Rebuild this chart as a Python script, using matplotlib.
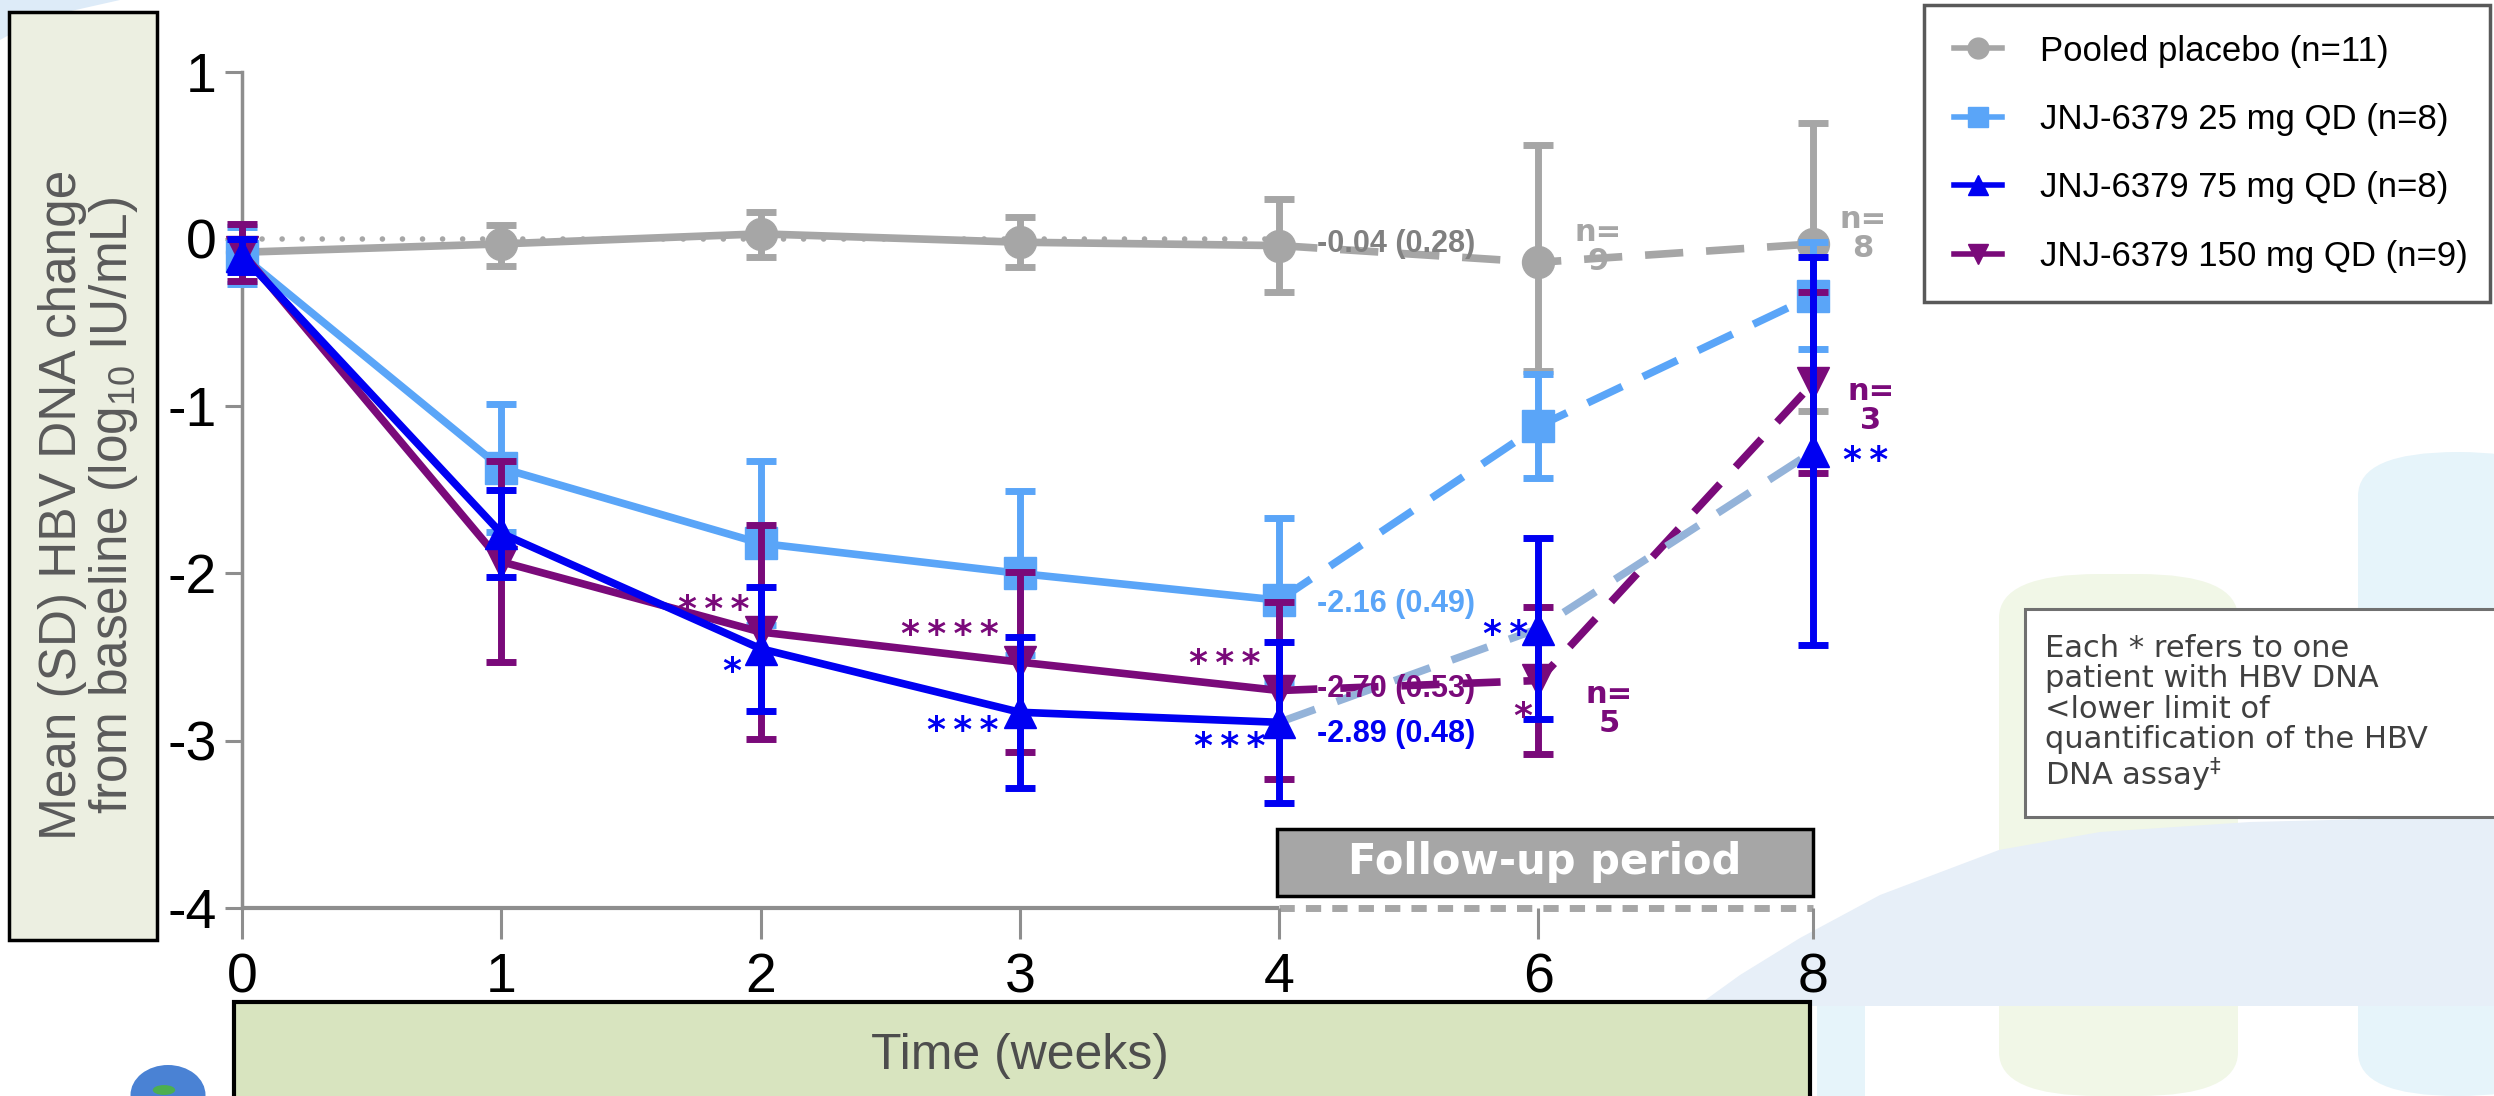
import matplotlib
matplotlib.use('Agg')
import matplotlib.pyplot as plt
from matplotlib.patches import Rectangle, Polygon, Ellipse, Circle, FancyBboxPatch
from matplotlib.lines import Line2D

# ---------------- data ----------------
weeks = [0, 1, 2, 3, 4, 6, 8]
week_labels = ['0', '1', '2', '3', '4', '6', '8']

placebo_mean = [-0.08, -0.03, 0.03, -0.02, -0.04, -0.14, -0.03]
placebo_err_lo = [0.08, 0.13, 0.14, 0.15, 0.28, 0.65, 1.00]
placebo_err_hi = [0.08, 0.11, 0.13, 0.15, 0.28, 0.70, 0.72]

mg25_mean = [-0.10, -1.37, -1.82, -2.00, -2.16, -1.12, -0.34]
mg25_sd = [0.17, 0.38, 0.49, 0.49, 0.49, 0.31, 0.32]

mg75_mean = [-0.10, -1.76, -2.45, -2.83, -2.89, -2.33, -1.27]
mg75_sd = [0.10, 0.26, 0.37, 0.45, 0.48, 0.54, 1.16]

mg150_mean = [-0.08, -1.93, -2.35, -2.53, -2.70, -2.64, -0.86]
mg150_sd = [0.17, 0.60, 0.64, 0.54, 0.53, 0.44, 0.54]

series_names = ['Pooled placebo (n=11)', 'JNJ-6379 25 mg QD (n=8)',
                'JNJ-6379 75 mg QD (n=8)', 'JNJ-6379 150 mg QD (n=9)']
week4_labels = ['-0.04 (0.28)', '-2.16 (0.49)', '-2.89 (0.48)', '-2.70 (0.53)']
y_ticks = [1, 0, -1, -2, -3, -4]
y_tick_labels = ['1', '0', '-1', '-2', '-3', '-4']

# ---------------- style ----------------
W, H, DPI = 2494, 1096, 100
GRAY = '#A6A6A6'
GRAYTXT = '#808080'
LBLUE = '#5AA5F8'
BLUE = '#0000F2'
PURPLE = '#7A0A7A'
STEEL = '#94B3D9'
AXGRAY = '#8E8E8E'
COND = ['Liberation Sans Narrow', 'Liberation Sans', 'DejaVu Sans']
ARIAL = ['Liberation Sans', 'DejaVu Sans']
VERD = ['DejaVu Sans']

# categorical-like x positions on the drawn axis
xpos_map = {0: 0, 1: 1, 2: 2, 3: 3, 4: 4, 6: 5, 8: 6.06}
xs = [xpos_map[w] for w in weeks]


def fx(X):
    return X / W


def fy(Y):
    return 1 - Y / H


fig = plt.figure(figsize=(W / DPI, H / DPI), dpi=DPI)
fig.patch.set_facecolor('white')

# ---------------- background decorations ----------------
def P(pts, **kw):
    return Polygon([(fx(a), fy(b)) for a, b in pts], closed=True, ec='none', **kw)


deco = [
    P([(0, 0), (120, 0), (40, 18), (0, 40)], fc='#DDEBF8'),
    FancyBboxPatch((fx(2358), fy(1096)), fx(200), (1096 - 452) / H,
                   boxstyle='round,pad=0,rounding_size=0.04', fc='#E6F4FA', ec='none'),
    FancyBboxPatch((fx(1999), fy(1096)), fx(239), (1096 - 574) / H,
                   boxstyle='round,pad=0,rounding_size=0.04', fc='#F1F7E7', ec='none'),
    P([(1697, 1006), (1740, 975), (1800, 938), (1880, 895), (1999, 850), (2100, 832),
       (2250, 822), (2494, 816), (2494, 1006)], fc='#E7EFF8'),
    Rectangle((fx(1817), fy(1096)), fx(48), (1096 - 1006) / H, fc='#E6F4FA', ec='none'),
    Ellipse((fx(168), fy(1095)), fx(75), 60 / H, fc='#4A82D4', ec='none'),
    Circle((fx(164), fy(1090)), 0.0045, fc='#4CAF50', ec='none'),
]
for p in deco:
    p.set_transform(fig.transFigure)
    p.set_zorder(-2)
    fig.patches.append(p)

# ---------------- boxes around axis titles ----------------
ybox = Rectangle((fx(9), fy(940)), fx(157 - 9), (940 - 12) / H, fc='#ECEFE1',
                 ec='black', lw=2.5, transform=fig.transFigure, zorder=-1)
tbox = Rectangle((fx(234), fy(1115)), fx(1810 - 234), (1115 - 1002) / H, fc='#D8E4BF',
                 ec='black', lw=3, transform=fig.transFigure, zorder=-1)
fig.patches.extend([ybox, tbox])
fig.text(fx(89), fy(505), 'Mean (SD) HBV DNA change\nfrom baseline (log$_{\\mathregular{10}}$ IU/mL)',
         rotation=90, ha='center', va='center', ma='center', fontsize=37,
         family=COND, color='#5A5A5A', linespacing=1.0, zorder=2)
fig.text(fx(1020), fy(1056), 'Time (weeks)', ha='center', va='center', fontsize=36,
         family=COND, color='#4D4D4D', zorder=2)

# ---------------- axes ----------------
ax = fig.add_axes([fx(242), fy(908), 6.3 * 259.3 / W, (908 - 71.6) / H])
ax.set_zorder(1)
ax.set_facecolor('none')
ax.set_xlim(0, 6.3)
ax.set_ylim(-4, 1)
for s in ['top', 'right', 'bottom']:
    ax.spines[s].set_visible(False)
ax.spines['left'].set_color(AXGRAY)
ax.spines['left'].set_linewidth(2.5)
ax.spines['left'].set_zorder(1)
ax.set_yticks(y_ticks)
ax.set_yticklabels(y_tick_labels, family=COND, fontsize=40)
ax.set_xticks(xs)
ax.set_xticklabels(week_labels, family=COND, fontsize=40)
ax.tick_params(axis='y', length=12, width=2.2, color=AXGRAY, pad=6)
ax.tick_params(axis='x', length=22, width=2.2, color=AXGRAY, pad=10)

# x axis line: solid for treatment period, dashed for follow-up
ax.plot([0, 4], [-4, -4], color=AXGRAY, lw=3, clip_on=False, zorder=1, solid_capstyle='butt')
ax.plot([4, xs[-1]], [-4, -4], color=GRAY, lw=5, ls=(0, (2.2, 1.6)), clip_on=False, zorder=1)

# baseline reference dotted line
ax.plot([0, 4], [0, 0], color=GRAY, lw=4, ls=(0, (0.01, 3.6)), dash_capstyle='round',
        clip_on=False, zorder=2)


def draw(mean, lo, hi, color, dcolor, marker, z):
    ax.plot(xs[:5], mean[:5], color=color, lw=5.5, zorder=z, clip_on=False)
    ax.plot(xs[4:], mean[4:], color=dcolor, lw=5.5, ls=(0, (5, 3)), zorder=z, clip_on=False)
    eb = ax.errorbar(xs, mean, yerr=[lo, hi], fmt='none', ecolor=color, elinewidth=5,
                     capsize=11, capthick=5, zorder=z + 0.1)
    for art in eb.lines[1] + eb.lines[2]:
        art.set_clip_on(False)
    ax.plot(xs, mean, ls='none', marker=marker, ms=23, color=color, mec=color,
            zorder=z + 0.2, clip_on=False)


draw(placebo_mean, placebo_err_lo, placebo_err_hi, GRAY, GRAY, 'o', 3)
draw(mg25_mean, mg25_sd, mg25_sd, LBLUE, LBLUE, 's', 4)
draw(mg150_mean, mg150_sd, mg150_sd, PURPLE, PURPLE, 'v', 5)
draw(mg75_mean, mg75_sd, mg75_sd, BLUE, STEEL, '^', 6)

# week-4 summary labels
lab_x = 4.146
summ = [(placebo_mean[4] + 0.01, week4_labels[0], GRAYTXT),
        (mg25_mean[4] - 0.02, week4_labels[1], LBLUE),
        (mg75_mean[4] - 0.07, week4_labels[2], BLUE),
        (mg150_mean[4] + 0.01, week4_labels[3], PURPLE)]
for y, t, c in summ:
    ax.text(lab_x, y, t, color=c, fontsize=22, fontweight='bold', family=ARIAL,
            ha='left', va='center', zorder=7)

# follow-up n labels
nlab = [(5.14, placebo_mean[5] + 0.09, 'n=\n9', GRAY),
        (6.16, placebo_mean[6] + 0.06, 'n=\n8', GRAY),
        (6.19, mg150_mean[6] - 0.14, 'n=\n3', PURPLE),
        (5.18, mg150_mean[5] - 0.17, 'n=\n5', PURPLE)]
for x, y, t, c in nlab:
    ax.text(x, y, t, color=c, fontsize=22, fontweight='bold', family=VERD,
            ha='left', va='center', ma='center', linespacing=1.0, zorder=7)

# asterisks (patients < LLOQ)
TS = '\u2009'
stars = [(2, mg150_mean[2], -0.18, 0.13, 3, PURPLE),
         (2, mg75_mean[2], -0.11, -0.14, 1, BLUE),
         (3, mg150_mean[3], -0.27, 0.16, 4, PURPLE),
         (3, mg75_mean[3], -0.22, -0.11, 3, BLUE),
         (4, mg150_mean[4], -0.21, 0.16, 3, PURPLE),
         (4, mg75_mean[4], -0.19, -0.15, 3, BLUE),
         (5, mg75_mean[5], -0.125, -0.04, 2, BLUE),
         (5, mg150_mean[5], -0.06, -0.22, 1, PURPLE),
         (6, mg75_mean[6], 0.20, -0.06, 2, BLUE)]
for k, y, dx, dy, n, c in stars:
    ax.text(xs[k] + dx, y + dy, TS.join(['*'] * n), color=c, fontsize=26, fontweight='bold',
            family=VERD, ha='center', va='center', zorder=7)

# follow-up period box
fbox = Rectangle((fx(1277), fy(896)), fx(1813 - 1277), (896 - 829) / H, fc='#A6A6A6',
                 ec='black', lw=2.5, transform=fig.transFigure, zorder=8)
fig.patches.append(fbox)
fig.text(fx(1545), fy(862), 'Follow-up period', color='white', fontsize=30,
         fontweight='bold', family=VERD, ha='center', va='center', zorder=9)

# legend
handles = [Line2D([], [], color=GRAY, lw=4, marker='o', ms=15),
           Line2D([], [], color=LBLUE, lw=4, marker='s', ms=15),
           Line2D([], [], color=BLUE, lw=4, marker='^', ms=15),
           Line2D([], [], color=PURPLE, lw=4, marker='v', ms=15)]
leg = fig.legend(handles, series_names, loc='upper left',
                 bbox_to_anchor=(fx(1924), fy(296), (2490 - 1924) / W, (296 - 5) / H),
                 mode='expand', borderaxespad=0, borderpad=0.85, labelspacing=1.02,
                 handlelength=1.4, handletextpad=1.1, fancybox=False, framealpha=1,
                 edgecolor='#595959', prop={'family': ARIAL, 'size': 25})
leg.get_frame().set_linewidth(2.5)

# note box
nbox = Rectangle((fx(2025), fy(817)), fx(2500 - 2025), (817 - 609) / H, fc='white',
                 ec='#707070', lw=2.2, transform=fig.transFigure, zorder=8)
fig.patches.append(nbox)
fig.text(fx(2045), fy(714),
         'Each * refers to one\npatient with HBV DNA\n<lower limit of\n'
         'quantification of the HBV\nDNA assay$^{\\ddag}$',
         color='#404040', fontsize=22, family=VERD, ha='left', va='center',
         linespacing=1.05, zorder=9)

fig.savefig('out.png', dpi=DPI)
